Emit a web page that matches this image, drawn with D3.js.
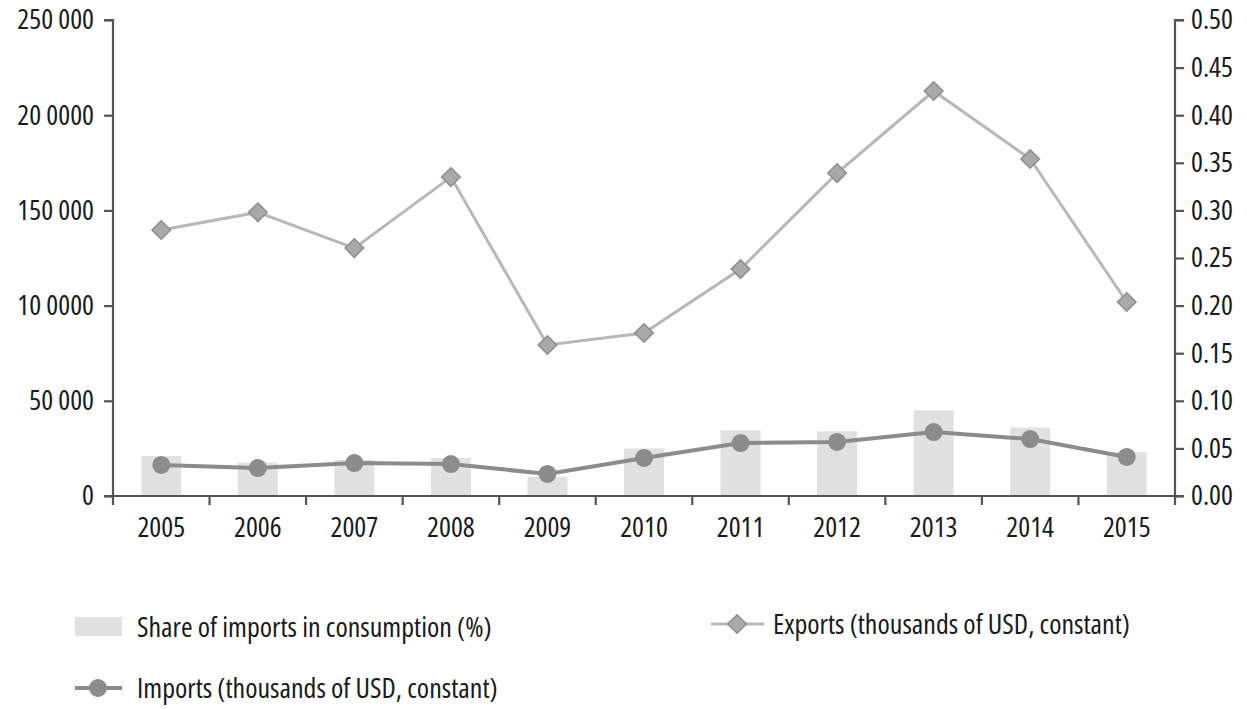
<!DOCTYPE html>
<html>
<head>
<meta charset="utf-8">
<script src="https://cdn.jsdelivr.net/npm/d3@7"></script>
<style>
  body { margin: 0; background: #fff; }
  svg text { font-family: "Open Sans", sans-serif; font-stretch: 75%; font-weight: 500; fill: #1a1a1a; }
</style>
</head>
<body>
<div id="chart"></div>
<script>
// Data
const years = ['2005', '2006', '2007', '2008', '2009', '2010', '2011', '2012', '2013', '2014', '2015'];
const exportsValues = [139700, 149000, 130200, 167500, 79300, 85600, 119200, 169600, 212700, 177000, 101900];
const importsValues = [16300, 14700, 17300, 16800, 11600, 20000, 27800, 28400, 33600, 29900, 20500];
const shareValues = [0.042, 0.035, 0.038, 0.040, 0.020, 0.050, 0.069, 0.068, 0.090, 0.072, 0.046];
const leftTicks = [0, 50000, 100000, 150000, 200000, 250000];
const leftTickLabels = ['0', '50 000', '10 0000', '150 000', '20 0000', '250 000'];
const rightTicks = [0, 0.05, 0.10, 0.15, 0.20, 0.25, 0.30, 0.35, 0.40, 0.45, 0.50];

const width = 1247, height = 709;
const margin = { top: 20, right: 72, bottom: 213, left: 113 };
const innerW = width - margin.left - margin.right;
const innerH = height - margin.top - margin.bottom;

const svg = d3.select('#chart')
    .append('svg')
    .attr('width', width)
    .attr('height', height);

const g = svg.append('g')
    .attr('transform', `translate(${margin.left},${margin.top})`);

// Scales
const x = d3.scaleBand().domain(years).range([0, innerW]).padding(0);
const yLeft = d3.scaleLinear().domain([0, 250000]).range([innerH, 0]);
const yRight = d3.scaleLinear().domain([0, 0.5]).range([innerH, 0]);

const axisColor = '#555';
const fontSize = '28px';

// Bars (share of imports, right axis)
const barW = 40;
g.selectAll('.bar')
    .data(shareValues)
    .enter()
    .append('rect')
    .attr('class', 'bar')
    .attr('x', (d, i) => x(years[i]) + x.bandwidth() / 2 - barW / 2)
    .attr('y', d => yRight(d))
    .attr('width', barW)
    .attr('height', d => innerH - yRight(d))
    .style('fill', '#e1e1e1');

// Left axis
const leftAxis = g.append('g')
    .call(d3.axisLeft(yLeft)
        .tickValues(leftTicks)
        .tickSize(9)
        .tickPadding(10)
        .tickFormat((d, i) => leftTickLabels[i]));
leftAxis.select('.domain').attr('d', `M-9,0H0V${innerH + 9}`);

// Right axis
const rightAxis = g.append('g')
    .attr('transform', `translate(${innerW},0)`)
    .call(d3.axisRight(yRight)
        .tickValues(rightTicks)
        .tickSize(9)
        .tickPadding(7)
        .tickFormat(d3.format('.2f')));
rightAxis.select('.domain').attr('d', `M9,0H0V${innerH + 9}`);

// Bottom axis, ticks at band boundaries
const bottomAxis = g.append('g')
    .attr('transform', `translate(0,${innerH})`)
    .call(d3.axisBottom(x).tickSize(0).tickPadding(21));
bottomAxis.select('.domain').attr('d', `M-9,0H${innerW + 9}`);
bottomAxis.selectAll('.boundary')
    .data(years.slice(1))
    .enter()
    .append('line')
    .attr('class', 'boundary')
    .attr('x1', d => x(d))
    .attr('x2', d => x(d))
    .attr('y1', 0)
    .attr('y2', 9);

[leftAxis, rightAxis, bottomAxis].forEach(a => {
    a.selectAll('.domain').attr('stroke', axisColor).attr('stroke-width', 2.2).attr('fill', 'none');
    a.selectAll('line').attr('stroke', axisColor).attr('stroke-width', 2.2);
    a.selectAll('text').style('font-size', fontSize).style('fill', '#1a1a1a')
        .style('font-family', '"Open Sans", sans-serif').style('font-stretch', '75%')
        .style('font-weight', 500);
});

const cx = (d, i) => x(years[i]) + x.bandwidth() / 2;

// Exports line
const exportsLine = d3.line().x(cx).y(d => yLeft(d));
g.append('path')
    .datum(exportsValues)
    .attr('fill', 'none')
    .attr('stroke', '#b8b8b8')
    .attr('stroke-width', 3)
    .attr('d', exportsLine);

const diamond = d3.symbol().type(d3.symbolDiamond2).size(220);
g.selectAll('.exp-dot')
    .data(exportsValues)
    .enter()
    .append('path')
    .attr('class', 'exp-dot')
    .attr('transform', (d, i) => `translate(${cx(d, i)},${yLeft(d)})`)
    .attr('d', diamond)
    .style('fill', '#a9a9a9')
    .style('stroke', '#8e8e8e')
    .style('stroke-width', 1.5);

// Imports line
const importsLine = d3.line().x(cx).y(d => yLeft(d));
g.append('path')
    .datum(importsValues)
    .attr('fill', 'none')
    .attr('stroke', '#8c8c8c')
    .attr('stroke-width', 4)
    .attr('d', importsLine);

g.selectAll('.imp-dot')
    .data(importsValues)
    .enter()
    .append('circle')
    .attr('class', 'imp-dot')
    .attr('cx', cx)
    .attr('cy', d => yLeft(d))
    .attr('r', 9)
    .style('fill', '#8c8c8c');

// Legend
const legend = svg.append('g');

legend.append('rect')
    .attr('x', 75).attr('y', 617)
    .attr('width', 47).attr('height', 19)
    .style('fill', '#e1e1e1');
legend.append('text')
    .attr('x', 137).attr('y', 627).attr('dy', '0.35em')
    .style('font-size', fontSize)
    .text('Share of imports in consumption (%)');

legend.append('line')
    .attr('x1', 75).attr('x2', 122).attr('y1', 688).attr('y2', 688)
    .attr('stroke', '#8c8c8c').attr('stroke-width', 4);
legend.append('circle')
    .attr('cx', 98).attr('cy', 688).attr('r', 9)
    .style('fill', '#8c8c8c');
legend.append('text')
    .attr('x', 137).attr('y', 688).attr('dy', '0.35em')
    .style('font-size', fontSize)
    .text('Imports (thousands of USD, constant)');

legend.append('line')
    .attr('x1', 711).attr('x2', 764).attr('y1', 624).attr('y2', 624)
    .attr('stroke', '#b8b8b8').attr('stroke-width', 3);
legend.append('path')
    .attr('transform', 'translate(737,624)')
    .attr('d', diamond)
    .style('fill', '#a9a9a9')
    .style('stroke', '#8e8e8e')
    .style('stroke-width', 1.5);
legend.append('text')
    .attr('x', 773).attr('y', 624).attr('dy', '0.35em')
    .style('font-size', fontSize)
    .text('Exports (thousands of USD, constant)');
</script>
</body>
</html>
